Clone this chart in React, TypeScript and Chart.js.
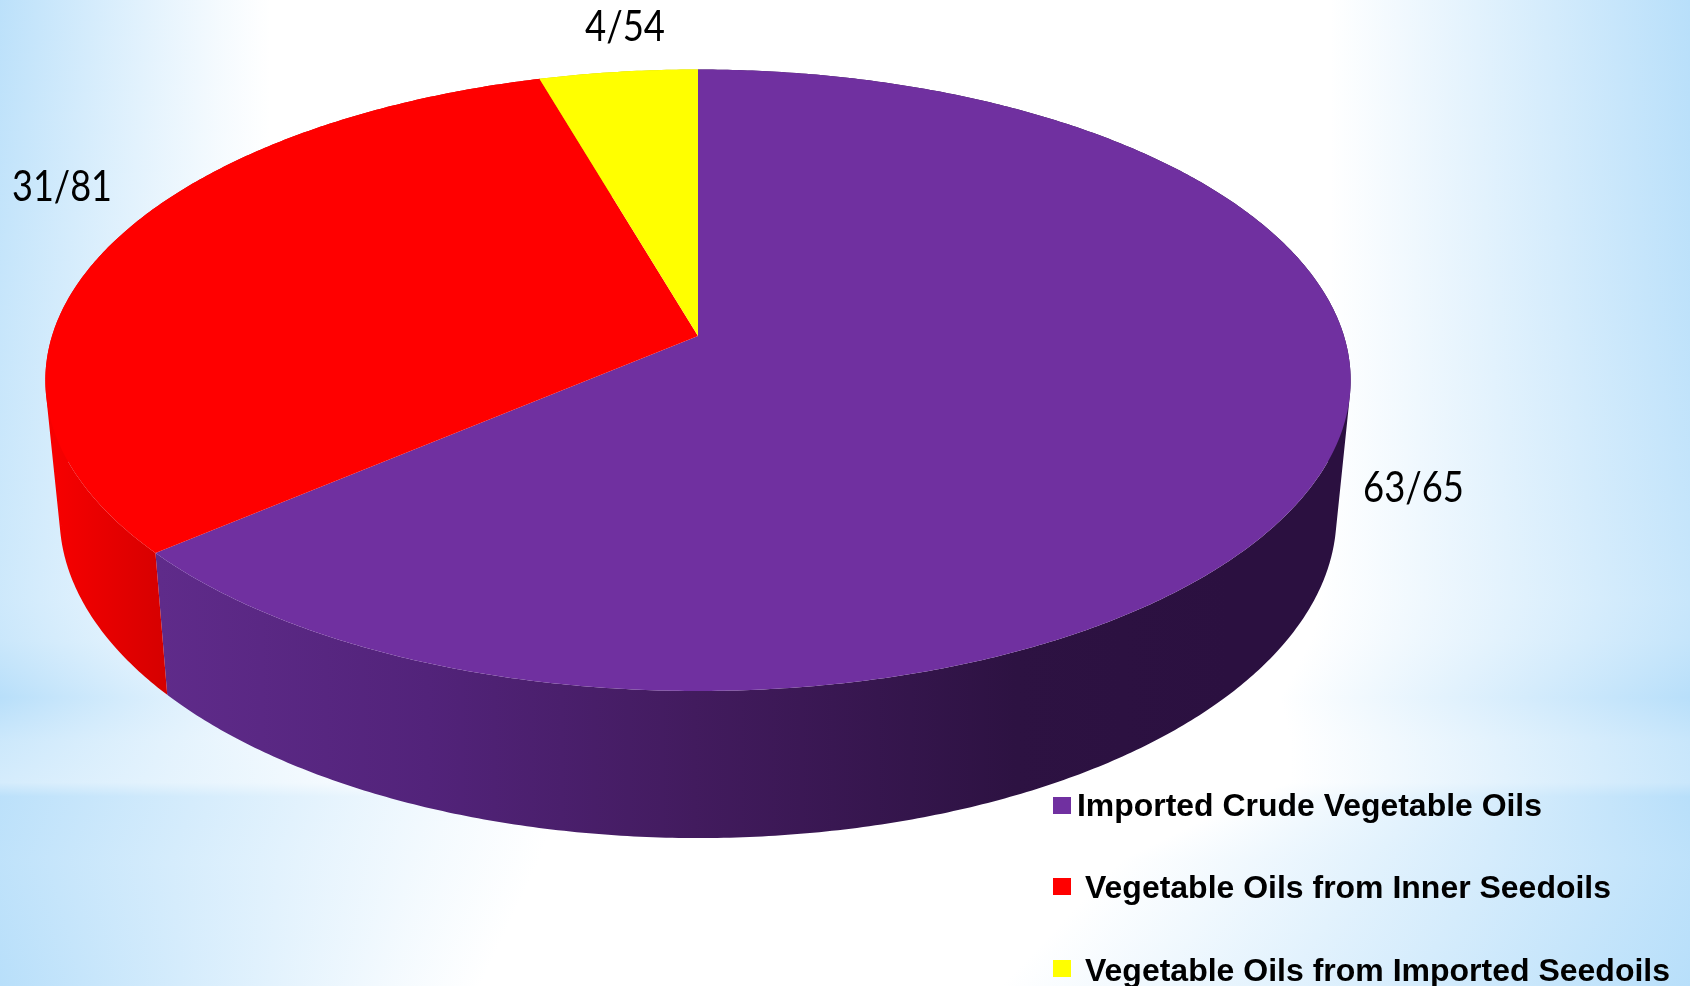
import React, { useEffect, useRef } from "react";
import { Chart, registerables } from "chart.js";

Chart.register(...registerables);

const categories = [
  "Imported Crude Vegetable Oils",
  "Vegetable Oils from Inner Seedoils",
  "Vegetable Oils from Imported Seedoils",
];
const shares = [63.8, 31.7, 4.5];
const sliceLabels = ["63/65", "31/81", "4/54"];
const sliceColors = ["#7030A0", "#FF0000", "#FFFF00"];

const W = 1690;
const H = 986;
const CX = 698;
const P = 0.1424;
const TOP = { a: 646, b: 256.6, c: 336 };
const BOTTOM = { a: 632, b: 249, c: 469.7 };

const project = (rim: { a: number; b: number; c: number }, angle: number) => {
  const X = Math.sin(angle);
  const Y = Math.cos(angle);
  const w = 1 + P * Y;
  return { x: CX + (rim.a * X) / w, y: (rim.c - rim.b * Y) / w };
};

// Backdrop profile: strength and reach of the blue on each side, by row.
const bgRows = [0, 300, 600, 640, 697, 740, 782, 796, 860, 986];
const leftStrength = [0.95, 0.8, 0.7, 0.75, 1, 0.72, 0.6, 0.95, 0.9, 1];
const leftReach = [270, 270, 280, 300, 340, 400, 470, 560, 540, 480];
const rightStrength = [1, 0.92, 0.78, 0.82, 1, 0.78, 0.75, 1, 0.92, 1];
const rightStart = [1330, 1330, 1320, 1310, 1280, 1290, 1290, 1250, 1120, 1000];

const lookup = (ys: number[], vs: number[], y: number) => {
  for (let i = 1; i < ys.length; i++) {
    if (y <= ys[i]) {
      const f = (y - ys[i - 1]) / (ys[i] - ys[i - 1]);
      return vs[i - 1] + (vs[i] - vs[i - 1]) * f;
    }
  }
  return vs[vs.length - 1];
};

const pie3d = {
  id: "pie3d",
  beforeDraw(chart: any) {
    const ctx: CanvasRenderingContext2D = chart.ctx;
    ctx.save();
    ctx.fillStyle = "#fff";
    ctx.fillRect(0, 0, W, H);
    const blue = (a: number) => `rgba(184,223,250,${a.toFixed(3)})`;
    for (let y = 0; y < H; y++) {
      const ls = lookup(bgRows, leftStrength, y);
      const lr = lookup(bgRows, leftReach, y);
      const rs = lookup(bgRows, rightStrength, y);
      const rr = lookup(bgRows, rightStart, y);
      const gl = ctx.createLinearGradient(0, 0, lr, 0);
      const gr = ctx.createLinearGradient(rr, 0, W, 0);
      for (let k = 0; k <= 5; k++) {
        const u = k / 5;
        gl.addColorStop(u, blue(ls * Math.pow(1 - u, 1.1)));
        gr.addColorStop(u, blue(rs * u));
      }
      ctx.fillStyle = gl;
      ctx.fillRect(0, y, lr, 1);
      ctx.fillStyle = gr;
      ctx.fillRect(rr, y, W - rr, 1);
    }
    ctx.restore();
  },
  beforeDatasetsDraw(chart: any) {
    const ctx: CanvasRenderingContext2D = chart.ctx;
    const arcs = chart.getDatasetMeta(0).data;
    const purpleWall = ctx.createLinearGradient(160, 0, 1230, 0);
    purpleWall.addColorStop(0, "#5f2b8a");
    purpleWall.addColorStop(0.25, "#52237a");
    purpleWall.addColorStop(0.5, "#421b5e");
    purpleWall.addColorStop(0.8, "#2d1242");
    purpleWall.addColorStop(1, "#2b1040");
    const redWall = ctx.createLinearGradient(50, 0, 170, 0);
    redWall.addColorStop(0, "#f80000");
    redWall.addColorStop(1, "#d40000");
    const walls = [purpleWall, redWall, "#c8c800"];
    const step = Math.PI / 360;
    ctx.save();
    arcs.forEach((arc: any, i: number) => {
      const s = arc.startAngle + Math.PI / 2;
      const e = arc.endAngle + Math.PI / 2;
      ctx.fillStyle = walls[i] as any;
      ctx.beginPath();
      for (let t = s; t < e - 1e-6; t += step) {
        const t2 = Math.min(t + step, e);
        let q = [project(TOP, t), project(TOP, t2), project(BOTTOM, t2), project(BOTTOM, t)];
        let area = 0;
        q.forEach((p, k) => {
          const n = q[(k + 1) % 4];
          area += p.x * n.y - n.x * p.y;
        });
        if (area < 0) q = q.reverse();
        ctx.moveTo(q[0].x, q[0].y);
        ctx.lineTo(q[1].x, q[1].y);
        ctx.lineTo(q[2].x, q[2].y);
        ctx.lineTo(q[3].x, q[3].y);
        ctx.closePath();
      }
      ctx.fill();
    });
    arcs.forEach((arc: any, i: number) => {
      const s = arc.startAngle + Math.PI / 2;
      const e = arc.endAngle + Math.PI / 2;
      ctx.fillStyle = sliceColors[i];
      ctx.beginPath();
      ctx.moveTo(CX, TOP.c);
      for (let t = s; t < e; t += step) {
        const p = project(TOP, t);
        ctx.lineTo(p.x, p.y);
      }
      const p = project(TOP, e);
      ctx.lineTo(p.x, p.y);
      ctx.closePath();
      ctx.fill();
    });
    ctx.restore();
    return false;
  },
  afterDraw(chart: any) {
    const ctx: CanvasRenderingContext2D = chart.ctx;
    ctx.save();
    ctx.fillStyle = "#000";
    ctx.textBaseline = "middle";
    ctx.textAlign = "left";
    ctx.font = '42px Lato, "Noto Sans", sans-serif';
    const labelSpots = [
      [1363, 488, 101],
      [12, 187, 100],
      [585, 27, 80],
    ];
    sliceLabels.forEach((t, i) => {
      const [x, y, mw] = labelSpots[i];
      ctx.fillText(t, x, y, mw);
    });
    ctx.font = 'bold 32px "Liberation Sans", Arial, sans-serif';
    const legendSpots = [
      [797, 807, 1077, 465],
      [878, 889, 1085, 526],
      [960, 972, 1085, 585],
    ];
    categories.forEach((t, i) => {
      const [by, ty, x, mw] = legendSpots[i];
      ctx.fillStyle = sliceColors[i];
      ctx.fillRect(1053, by, 18, 17);
      ctx.fillStyle = "#000";
      ctx.fillText(t, x, ty, mw);
    });
    ctx.restore();
  },
};

export default function App() {
  const ref = useRef<HTMLCanvasElement>(null);
  useEffect(() => {
    const chart = new Chart(ref.current as HTMLCanvasElement, {
      type: "pie",
      data: {
        labels: categories,
        datasets: [{ data: shares, backgroundColor: sliceColors, borderWidth: 0 }],
      },
      options: {
        responsive: false,
        animation: false,
        plugins: { legend: { display: false }, tooltip: { enabled: false } },
      },
      plugins: [pie3d],
    } as any);
    return () => chart.destroy();
  }, []);
  return (
    <div style={{ position: "absolute", left: 0, top: 0, width: W, height: H, overflow: "hidden" }}>
      <canvas ref={ref} width={W} height={H} style={{ display: "block" }} />
    </div>
  );
}
